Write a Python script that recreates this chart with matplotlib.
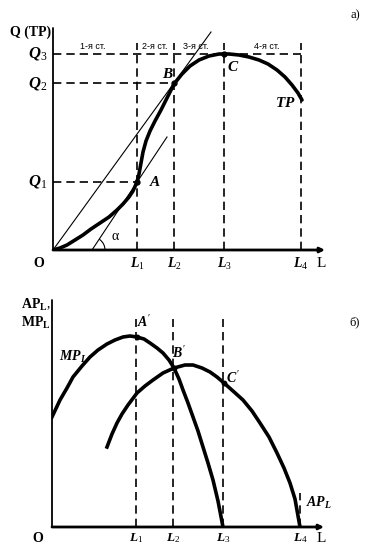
import matplotlib
matplotlib.use('Agg')
import matplotlib.pyplot as plt
from matplotlib.patches import Arc

plt.rcParams['font.family'] = ['Liberation Serif', 'DejaVu Serif']
plt.rcParams['mathtext.fontset'] = 'custom'
plt.rcParams['mathtext.rm'] = 'Liberation Serif'
plt.rcParams['mathtext.it'] = 'Liberation Serif:italic:bold'
plt.rcParams['mathtext.bf'] = 'Liberation Serif:bold'

# --- data ---
L_pos = [8.4, 12.1, 17.1, 24.8]
L_labels = [r'$L_1$', r'$L_2$', r'$L_3$', r'$L_4$']
Q_pos = [6.8, 16.7, 19.6]
Q_labels = [r'$Q_1$', r'$Q_2$', r'$Q_3$']
stages = ['1-я ст.', '2-я ст.', '3-я ст.', '4-я ст.']
stage_x = [4.0, 10.2, 14.3, 21.4]

tp_x = [0, 0.7, 1.4, 2.2, 3.0, 3.8, 4.7, 5.6, 6.4, 7.0, 7.6, 8.0, 8.4, 8.6,
        8.8, 9.0, 9.3, 9.7, 10.2, 10.8, 11.4, 12.1, 12.9, 13.7, 14.6, 15.6,
        16.6, 17.6, 18.6, 19.6, 20.6, 21.5, 22.4, 23.2, 23.9, 24.5, 24.9]
tp_y = [0, 0.2, 0.5, 1.0, 1.5, 2.1, 2.7, 3.3, 4.0, 4.6, 5.3, 5.9, 6.8, 7.6,
        8.7, 9.8, 10.9, 11.9, 12.9, 14.0, 15.2, 16.6, 17.6, 18.4, 19.0, 19.4,
        19.6, 19.6, 19.5, 19.3, 19.0, 18.6, 18.0, 17.3, 16.5, 15.7, 15.0]

ray_x = [0, 15.8]          # ray from origin tangent at B
ray_y = [0, 21.8]
tan_x = [3.9, 11.4]        # tangent at A
tan_y = [0, 11.3]

mp_x = [0.0, 0.8, 1.5, 2.1, 3.0, 3.8, 4.6, 5.5, 6.3, 7.1, 7.8, 8.5, 9.2,
        9.8, 10.5, 11.1, 11.7, 12.2, 12.7, 13.1, 13.6, 14.1, 14.6, 15.1,
        15.6, 16.1, 16.6, 17.1]
mp_y = [11.0, 12.7, 13.9, 15.0, 16.1, 17.0, 17.7, 18.3, 18.7, 19.0, 19.1,
        19.0, 18.8, 18.4, 17.9, 17.4, 16.7, 15.9, 14.8, 13.7, 12.4, 11.0,
        9.6, 8.0, 6.4, 4.7, 2.6, 0]
ap_x = [5.5, 6.0, 6.5, 7.0, 7.6, 8.5, 9.3, 10.1, 11.1, 12.2, 13.3, 14.1,
        15.0, 15.8, 16.5, 17.2, 18.1, 19.1, 20.0, 20.8, 21.7, 22.5, 23.2,
        23.8, 24.3, 24.8]
ap_y = [8.0, 9.3, 10.4, 11.3, 12.2, 13.4, 14.1, 14.7, 15.4, 15.9, 16.2,
        16.2, 15.9, 15.5, 15.0, 14.4, 13.6, 12.7, 11.6, 10.4, 9.0, 7.4,
        5.9, 4.4, 2.8, 0]

W, H = 377, 549
fig = plt.figure(figsize=(W / 100, H / 100), dpi=100)
fig.patch.set_facecolor('white')

dash = dict(color='black', lw=1.2, dashes=(5, 3))


def make_axes(ox, oy, x1, ytop):
    ax = fig.add_axes([ox / W, (H - oy) / H, (x1 - ox) / W, (oy - ytop) / H])
    ax.set_xlim(0, (x1 - ox) / 10)
    ax.set_ylim(0, (oy - ytop) / 10)
    ax.axis('off')
    ax.annotate('', xy=((x1 - ox) / 10 - 0.5, 0), xytext=(0, 0),
                arrowprops=dict(arrowstyle='-|>', lw=2, color='black',
                                mutation_scale=7, shrinkA=0, shrinkB=0),
                annotation_clip=False)
    ax.annotate('', xy=(0, (oy - ytop) / 10), xytext=(0, 0),
                arrowprops=dict(arrowstyle='-', lw=1.3, color='black',
                                shrinkA=0, shrinkB=0),
                annotation_clip=False)
    return ax


# ---------- top panel ----------
ax1 = make_axes(53, 250, 330, 28)
for i, lx in enumerate(L_pos):
    ax1.plot([lx, lx], [0, 20.7], **dash)
    ax1.text(lx, -0.6, L_labels[i], ha='center', va='top', fontsize=10)
ax1.plot([0, L_pos[3]], [Q_pos[2], Q_pos[2]], **dash)
ax1.plot([0, L_pos[1]], [Q_pos[1], Q_pos[1]], **dash)
ax1.plot([0, L_pos[0]], [Q_pos[0], Q_pos[0]], **dash)
for i, qy in enumerate(Q_pos):
    ax1.text(-0.6, qy, Q_labels[i], ha='right', va='center', fontsize=12)
for s, sx in zip(stages, stage_x):
    ax1.text(sx, 20.3, s, ha='center', va='center', fontsize=6.5,
             family='Liberation Sans')

ax1.plot(ray_x, ray_y, color='black', lw=0.8)
ax1.plot(tan_x, tan_y, color='black', lw=0.8)
ax1.plot(tp_x, tp_y, color='black', lw=2.6, solid_capstyle='round',
         solid_joinstyle='round')
ax1.plot([L_pos[0], L_pos[1], L_pos[2]], [Q_pos[0], Q_pos[1], Q_pos[2]],
         'o', color='black', ms=3.5)
ax1.add_patch(Arc((3.9, 0), 2.6, 2.6, theta1=0, theta2=56, color='black', lw=0.8))
ax1.text(6.2, 1.3, 'α', fontsize=10, ha='center', va='center')

ax1.text(9.6, 6.8, r'$A$', fontsize=11, ha='left', va='center')
ax1.text(11.5, 17.6, r'$B$', fontsize=11, ha='center', va='center')
ax1.text(18.0, 18.3, r'$C$', fontsize=11, ha='center', va='center')
ax1.text(23.2, 14.7, r'$TP$', fontsize=11, ha='center', va='center')
ax1.text(-0.2, 21.8, 'Q (TP)', fontsize=10, fontweight='bold',
         ha='right', va='center')
ax1.text(-1.4, -0.7, 'O', fontsize=10, fontweight='bold', ha='center', va='top')
ax1.text(26.8, -0.7, 'L', fontsize=11, ha='center', va='top')
ax1.text(30.2, 23.5, 'а)', fontsize=9, ha='center', va='center')

# ---------- bottom panel ----------
ax2 = make_axes(52, 527, 329, 300)
for i, lx in enumerate(L_pos[:3]):
    ax2.plot([lx, lx], [0, 20.8], **dash)
ax2.plot([L_pos[3], L_pos[3]], [0, 3.4], **dash)
for i, lx in enumerate(L_pos):
    ax2.text(lx, -0.45, L_labels[i], ha='center', va='top', fontsize=9.5)

ax2.plot(mp_x, mp_y, color='black', lw=2.6, solid_joinstyle='round')
ax2.plot(ap_x, ap_y, color='black', lw=2.6, solid_joinstyle='round')
ax2.plot([8.5, 12.2, 17.2], [19.0, 15.9, 14.4], 'o', color='black', ms=3.2)

ax2.text(9.2, 20.5, r"$A'$", fontsize=10, ha='center', va='center')
ax2.text(12.7, 17.4, r"$B'$", fontsize=10, ha='center', va='center')
ax2.text(18.1, 14.9, r"$C'$", fontsize=10, ha='center', va='center')
ax2.text(2.1, 17.0, r'$MP_L$', fontsize=10, ha='center', va='center')
ax2.text(25.4, 2.4, r'$AP_L$', fontsize=10, ha='left', va='center')
ax2.text(-0.1, 22.2, r'$\mathbf{AP_L},$', fontsize=10, ha='right', va='center')
ax2.text(-0.1, 20.4, r'$\mathbf{MP_L}$', fontsize=10, ha='right', va='center')
ax2.text(-1.4, -0.5, 'O', fontsize=10, fontweight='bold', ha='center', va='top')
ax2.text(26.9, -0.5, 'L', fontsize=11, ha='center', va='top')
ax2.text(30.3, 20.5, 'б)', fontsize=9, ha='center', va='center')

fig.savefig('out.png', dpi=100, facecolor='white')
